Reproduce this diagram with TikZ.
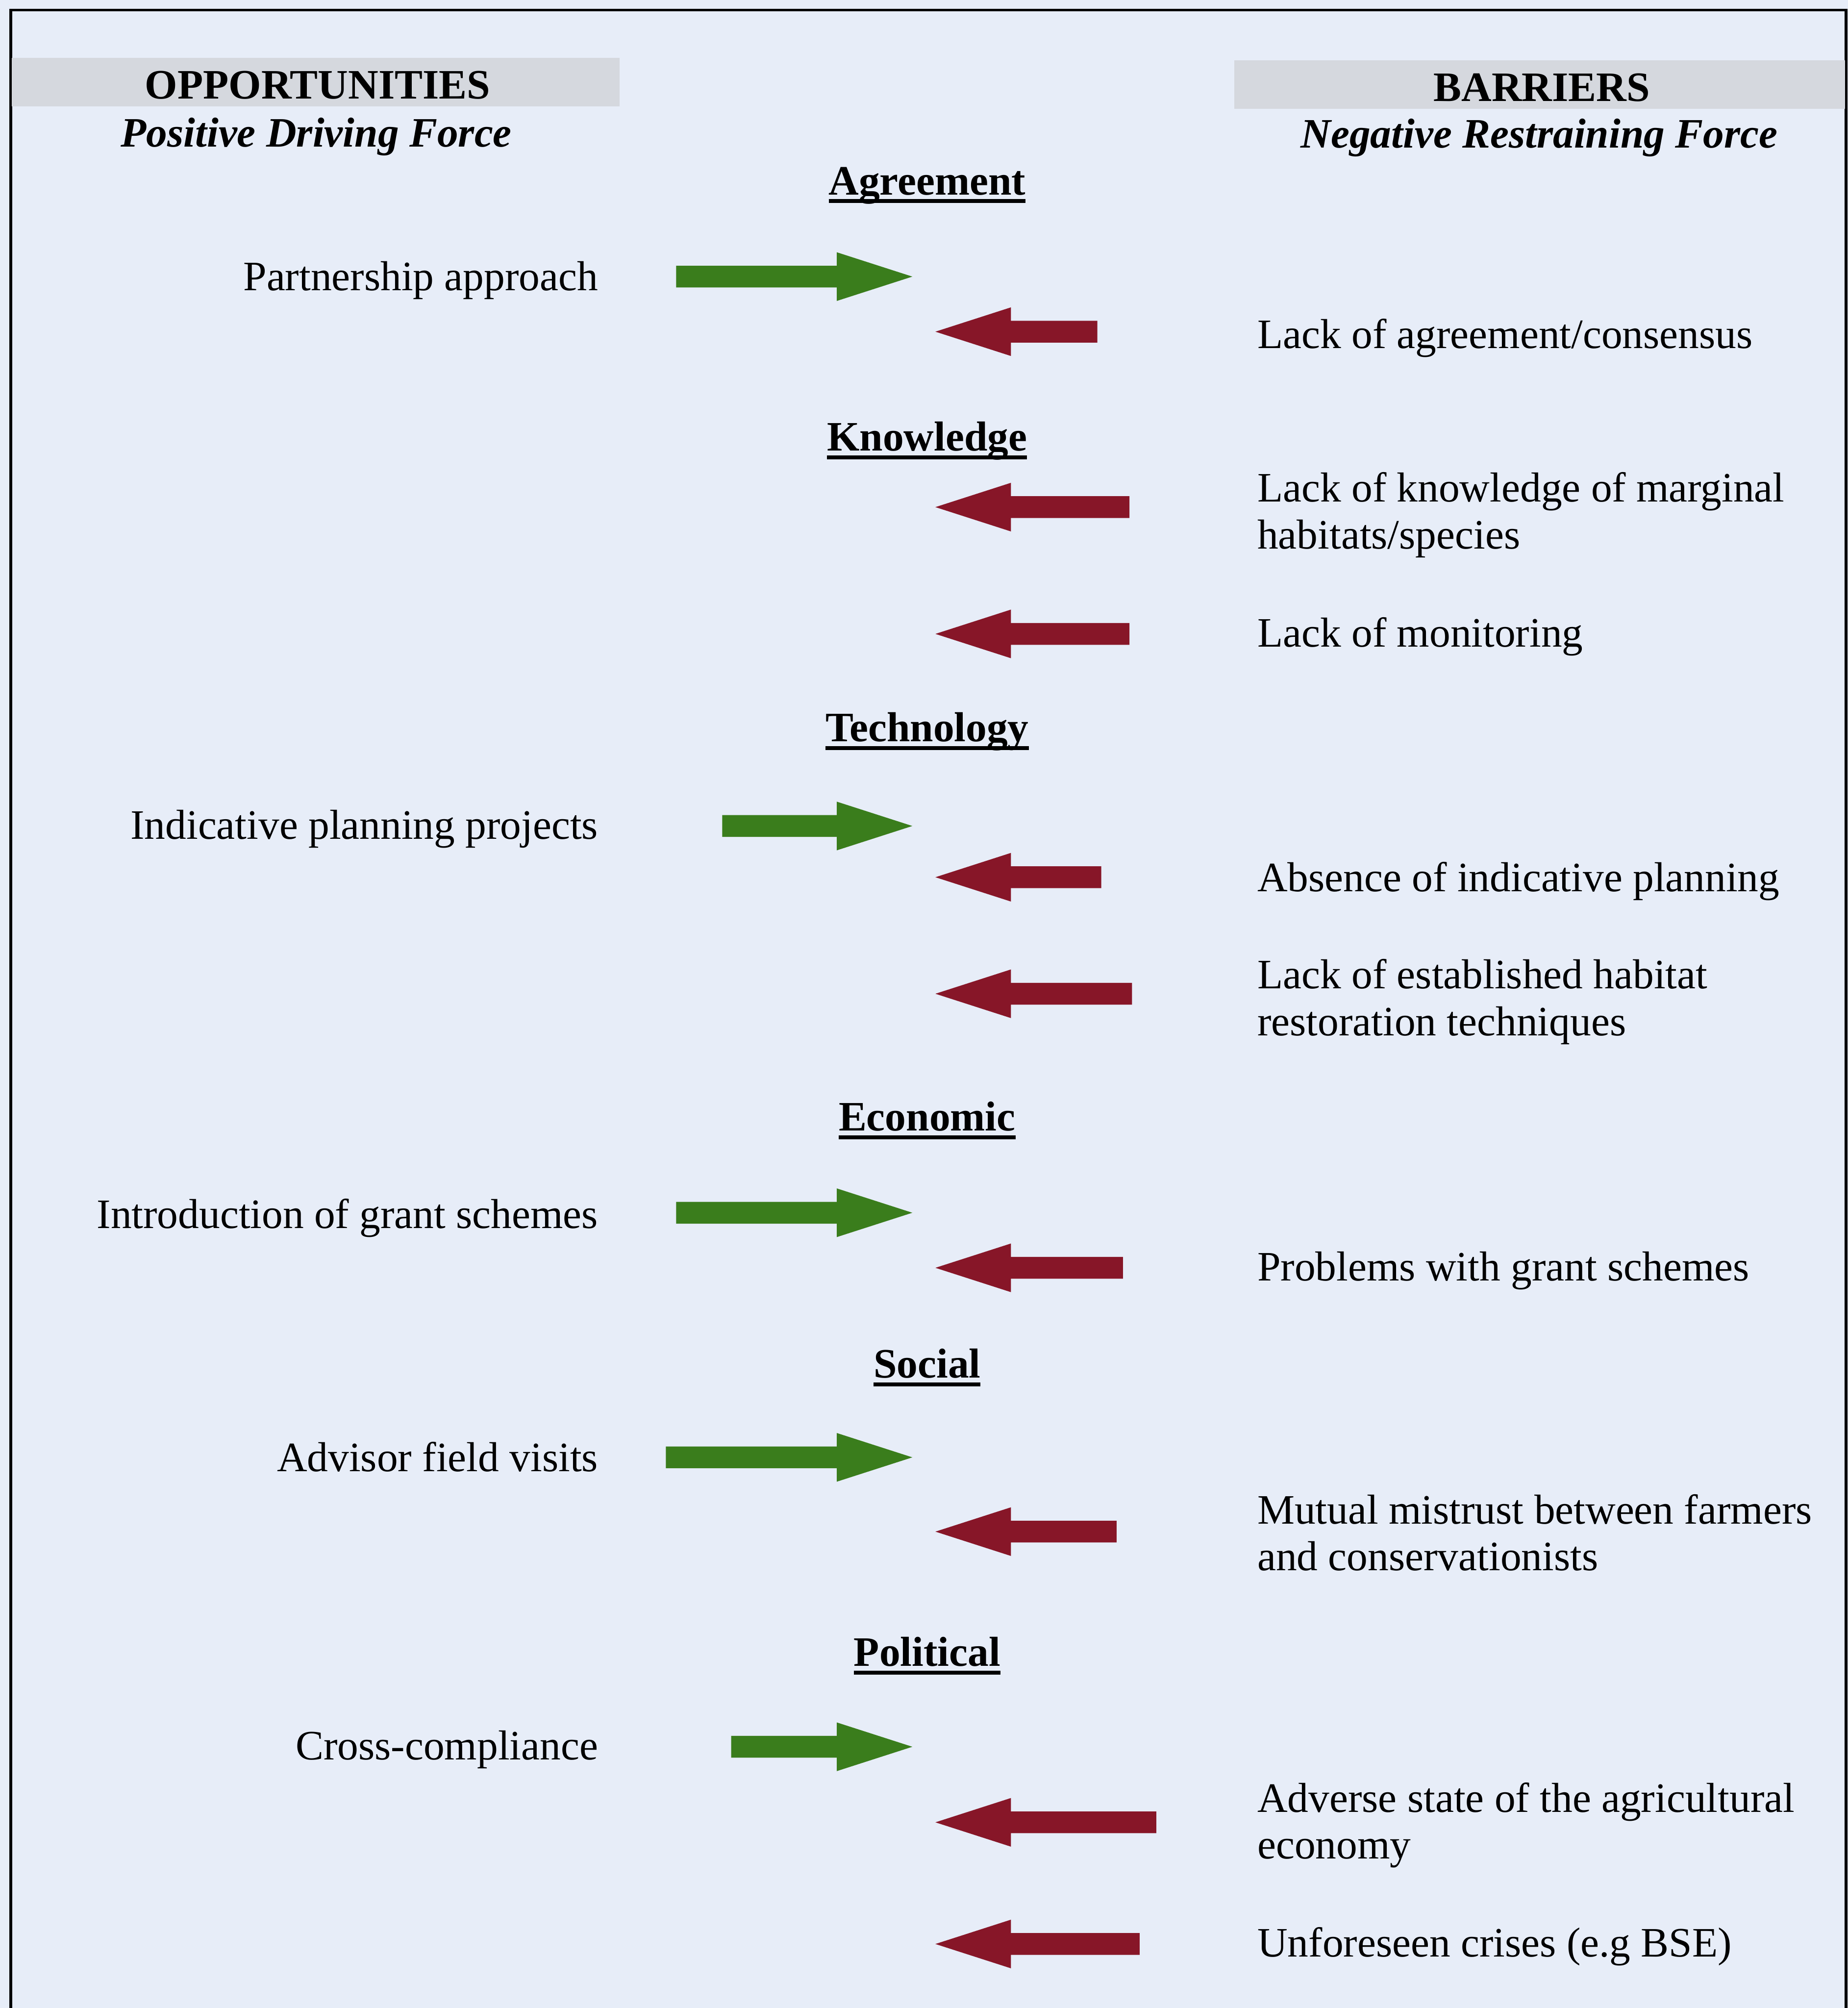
\documentclass[tikz,border=0pt]{standalone}
\usepackage{fontspec}
\setmainfont{Liberation Serif}

\definecolor{paper}{RGB}{231,237,248}
\definecolor{band}{RGB}{213,216,222}
\definecolor{drive}{RGB}{58,125,28}
\definecolor{restrain}{RGB}{135,22,40}

% block arrow: colour, tail x, tip x, centre y
\newcommand\forcearrow[4]{%
  \pgfmathsetmacro\headbase{#3-59*sign(#3-#2)}%
  \fill[#1] (#2,#4-8.5) -- (\headbase,#4-8.5) -- (\headbase,#4-19) -- (#3,#4)
    -- (\headbase,#4+19) -- (\headbase,#4+8.5) -- (#2,#4+8.5) -- cycle;}

\newcommand\twoline[2]{\begin{tabular}[t]{@{}l@{}}#1\\#2\end{tabular}}

\begin{document}
\begin{tikzpicture}[x=0.367pt,y=-0.367pt,
  every node/.style={inner sep=0pt,outer sep=0pt,font=\fontsize{12}{13.4}\selectfont},
  colhead/.style={font=\fontsize{12}{13.4}\selectfont\bfseries,anchor=base},
  colsub/.style={font=\fontsize{12}{13.4}\selectfont\bfseries\itshape,anchor=base},
  category/.style={font=\fontsize{12}{13.4}\selectfont\bfseries,anchor=base},
  underbar/.style={line width=1.1pt},
  opportunity/.style={anchor=base east},
  barrier/.style={anchor=base west},
]
\useasboundingbox (0,0) rectangle (1443,1568);
\fill[paper] (0,0) rectangle (1443,1568);

% frame
\draw[line width=0.8pt] (8.3,1568) -- (8.3,7.8) -- (1441.6,7.8) -- (1441.6,1568);

% column header bands
\fill[band] (9,45) rectangle (484,83);
\fill[band] (964,47) rectangle (1441,85);

% column headers
\node[colhead] (opp) at (248,77) {OPPORTUNITIES};
\node[colsub] (oppsub) at (247,114.6) {Positive Driving Force};
\node[colhead] (bar) at (1204,79) {BARRIERS};
\node[colsub] (barsub) at (1202,115.5) {Negative Restraining Force};

% category headings
\foreach \n/\t/\y in {cagree/Agreement/152, cknow/Knowledge/352, ctech/Technology/579,
                      cecon/Economic/883, csoc/Social/1076, cpol/Political/1301}{
  \node[category] (\n) at (724,\y) {\t};
  \draw[underbar] ([yshift=-1.85pt]\n.base west) -- ([yshift=-1.85pt]\n.base east);
}

% opportunities
\node[opportunity] (o1) at (467,227) {Partnership approach};
\node[opportunity] (o2) at (467,655) {Indicative planning projects};
\node[opportunity] (o3) at (467,959) {Introduction of grant schemes};
\node[opportunity] (o4) at (467,1149) {Advisor field visits};
\node[opportunity] (o5) at (467,1374) {Cross-compliance};

% barriers
\node[barrier] (b1) at (982,272) {Lack of agreement/consensus};
\node[barrier] (b2) at (982,392) {\twoline{Lack of knowledge of marginal}{habitats/species}};
\node[barrier] (b3) at (982,505) {Lack of monitoring};
\node[barrier] (b4) at (982,696) {Absence of indicative planning};
\node[barrier] (b5) at (982,772) {\twoline{Lack of established habitat}{restoration techniques}};
\node[barrier] (b6) at (982,1000) {Problems with grant schemes};
\node[barrier] (b7) at (982,1190) {\twoline{Mutual mistrust between farmers}{and conservationists}};
\node[barrier] (b8) at (982,1415) {\twoline{Adverse state of the agricultural}{economy}};
\node[barrier] (b9) at (982,1528) {Unforeseen crises (e.g BSE)};

% driving forces
\forcearrow{drive}{528}{712.5}{216}
\forcearrow{drive}{564}{712.5}{645}
\forcearrow{drive}{528}{712.5}{947}
\forcearrow{drive}{520}{712.5}{1138}
\forcearrow{drive}{571}{712.5}{1364}

% restraining forces
\forcearrow{restrain}{857}{730.5}{259}
\forcearrow{restrain}{882}{730.5}{396}
\forcearrow{restrain}{882}{730.5}{495}
\forcearrow{restrain}{860}{730.5}{685}
\forcearrow{restrain}{884}{730.5}{776}
\forcearrow{restrain}{877}{730.5}{990}
\forcearrow{restrain}{872}{730.5}{1196}
\forcearrow{restrain}{903}{730.5}{1423}
\forcearrow{restrain}{890}{730.5}{1518}
\end{tikzpicture}
\end{document}
